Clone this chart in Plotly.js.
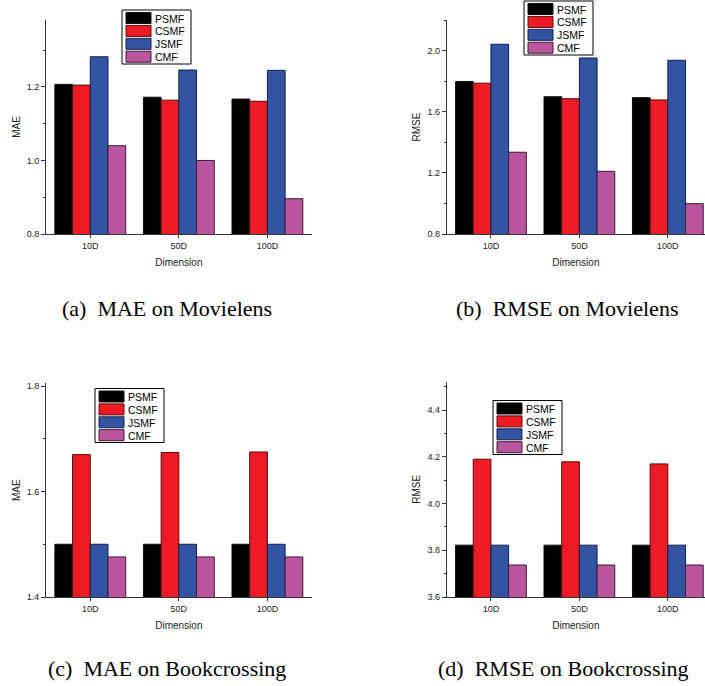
<!DOCTYPE html>
<html>
<head>
<meta charset="utf-8">
<script src="https://cdn.plot.ly/plotly-3.0.1.min.js"></script>
<style>html,body{margin:0;padding:0;background:#fff;}#chart{width:705px;height:686px;}</style>
</head>
<body>
<div id="chart"></div>
<script>
// ---- data ----
const categories = ["10D", "50D", "100D"];
const methods = ["PSMF", "CSMF", "JSMF", "CMF"];

// (a) MAE on Movielens
const maeMovielensPSMF = [1.207, 1.172, 1.167];
const maeMovielensCSMF = [1.205, 1.164, 1.161];
const maeMovielensJSMF = [1.282, 1.246, 1.245];
const maeMovielensCMF  = [1.040, 1.000, 0.896];

// (b) RMSE on Movielens
const rmseMovielensPSMF = [1.800, 1.700, 1.694];
const rmseMovielensCSMF = [1.789, 1.687, 1.679];
const rmseMovielensJSMF = [2.044, 1.954, 1.939];
const rmseMovielensCMF  = [1.336, 1.211, 0.999];

// (c) MAE on Bookcrossing
const maeBookPSMF = [1.500, 1.500, 1.500];
const maeBookCSMF = [1.670, 1.674, 1.675];
const maeBookJSMF = [1.500, 1.500, 1.500];
const maeBookCMF  = [1.476, 1.476, 1.476];

// (d) RMSE on Bookcrossing
const rmseBookPSMF = [3.822, 3.822, 3.822];
const rmseBookCSMF = [4.190, 4.179, 4.170];
const rmseBookJSMF = [3.822, 3.822, 3.822];
const rmseBookCMF  = [3.737, 3.737, 3.737];

const captions = ["(a)\u00a0\u00a0MAE on Movielens", "(b)\u00a0\u00a0RMSE on Movielens",
                  "(c)\u00a0\u00a0MAE on Bookcrossing", "(d)\u00a0\u00a0RMSE on Bookcrossing"];

// ---- styling ----
const W = 705, H = 686;
const colors = ["#000000", "#ED1C24", "#3353A3", "#B9569F"];
const edge = ["#111111", "#5a0a0a", "#14204a", "#3d1a35"];
const sans = "Liberation Sans, Arial, sans-serif";
const serif = "Liberation Serif, Times New Roman, serif";

const panels = [
  {series: [maeMovielensPSMF, maeMovielensCSMF, maeMovielensJSMF, maeMovielensCMF], ax: "", legendAt: [122, 10]},
  {series: [rmseMovielensPSMF, rmseMovielensCSMF, rmseMovielensJSMF, rmseMovielensCMF], ax: "2", legendAt: [524, 1]},
  {series: [maeBookPSMF, maeBookCSMF, maeBookJSMF, maeBookCMF], ax: "3", legendAt: [95, 388.5]},
  {series: [rmseBookPSMF, rmseBookCSMF, rmseBookJSMF, rmseBookCMF], ax: "4", legendAt: [493, 400.5]}
];

const traces = [];
panels.forEach(p => {
  p.series.forEach((vals, i) => {
    traces.push({
      type: "bar",
      name: methods[i],
      x: categories,
      y: vals,
      xaxis: "x" + p.ax,
      yaxis: "y" + p.ax,
      showlegend: false,
      marker: {color: colors[i], line: {color: edge[i], width: 1}},
      hoverinfo: "x+y+name"
    });
  });
});

function xaxisDef(domain, range, anchor) {
  return {
    domain: domain, range: range, anchor: anchor,
    type: "category",
    showline: true, linecolor: "#333", linewidth: 1,
    ticks: "outside", ticklen: 3, tickcolor: "#333",
    tickfont: {family: sans, size: 9, color: "#222"},
    showgrid: false, zeroline: false,
    title: {text: "Dimension", font: {family: sans, size: 10, color: "#222"}, standoff: 9}
  };
}
function yaxisDef(domain, range, dtick, minor, title, anchor) {
  return {
    domain: domain, range: range, anchor: anchor,
    showline: true, linecolor: "#333", linewidth: 1,
    ticks: "outside", ticklen: 4, tickcolor: "#333",
    dtick: dtick, tick0: range[0], tickformat: ".1f",
    minor: {ticks: "outside", ticklen: 2, dtick: minor, tickcolor: "#333", showgrid: false},
    tickfont: {family: sans, size: 9, color: "#222"},
    showgrid: false, zeroline: false,
    title: {text: title, font: {family: sans, size: 10, color: "#222"}, standoff: 4}
  };
}

const leftDom = [46 / W, 311.7 / W];
const rightDom = [446.7 / W, 1.0];
const topDom = [1 - 234 / H, 1 - 20 / H];

// ---- boxed legends (one per panel), built from methods/colors ----
const px = v => v / W;
const py = v => 1 - v / H;
const shapes = [];
const annotations = [];
const LEG = {w: 69, h: 54, sx: 4, sw: 25, sy: 2.5, sh: 11, pitch: 12.9, tx: 31};
panels.forEach(p => {
  const [lx, ly] = p.legendAt;
  shapes.push({type: "rect", xref: "paper", yref: "paper", layer: "above",
    x0: px(lx), x1: px(lx + LEG.w), y0: py(ly + LEG.h), y1: py(ly),
    fillcolor: "#ffffff", line: {color: "#000", width: 1}});
  methods.forEach((m, i) => {
    const top = ly + LEG.sy + i * LEG.pitch;
    shapes.push({type: "rect", xref: "paper", yref: "paper", layer: "above",
      x0: px(lx + LEG.sx), x1: px(lx + LEG.sx + LEG.sw), y0: py(top + LEG.sh), y1: py(top),
      fillcolor: colors[i], line: {color: edge[i], width: 1}});
    annotations.push({text: m, xref: "paper", yref: "paper",
      x: px(lx + LEG.tx), y: py(top + LEG.sh / 2 + 0.5), xanchor: "left", yanchor: "middle",
      showarrow: false, font: {family: sans, size: 10.5, color: "#000"}});
  });
});

[[167, 308], [567, 308], [167, 668], [563, 668]].forEach((pos, i) => {
  annotations.push({
    text: captions[i], xref: "paper", yref: "paper",
    x: px(pos[0]), y: py(pos[1]), xanchor: "center", yanchor: "middle",
    showarrow: false, font: {family: serif, size: 22, color: "#000"}
  });
});

const layout = {
  width: W, height: H,
  margin: {l: 0, r: 0, t: 0, b: 0},
  paper_bgcolor: "#fff", plot_bgcolor: "#fff",
  barmode: "group", bargap: 0.2, bargroupgap: 0,
  showlegend: false,
  xaxis: xaxisDef(leftDom, [-0.5, 2.5], "y"),
  yaxis: yaxisDef(topDom, [0.8, 1.382], 0.2, 0.1, "MAE", "x"),
  xaxis2: xaxisDef(rightDom, [-0.5, 2.42], "y2"),
  yaxis2: yaxisDef(topDom, [0.8, 2.203], 0.4, 0.2, "RMSE", "x2"),
  xaxis3: xaxisDef(leftDom, [-0.5, 2.5], "y3"),
  yaxis3: yaxisDef([1 - 597 / H, 1 - 383.4 / H], [1.4, 1.805], 0.2, 0.1, "MAE", "x3"),
  xaxis4: xaxisDef(rightDom, [-0.5, 2.42], "y4"),
  yaxis4: yaxisDef([1 - 597 / H, 1 - 381.7 / H], [3.6, 4.522], 0.2, 0.1, "RMSE", "x4"),
  shapes: shapes,
  annotations: annotations
};

Plotly.newPlot("chart", traces, layout, {displayModeBar: false, staticPlot: true});
</script>
</body>
</html>
